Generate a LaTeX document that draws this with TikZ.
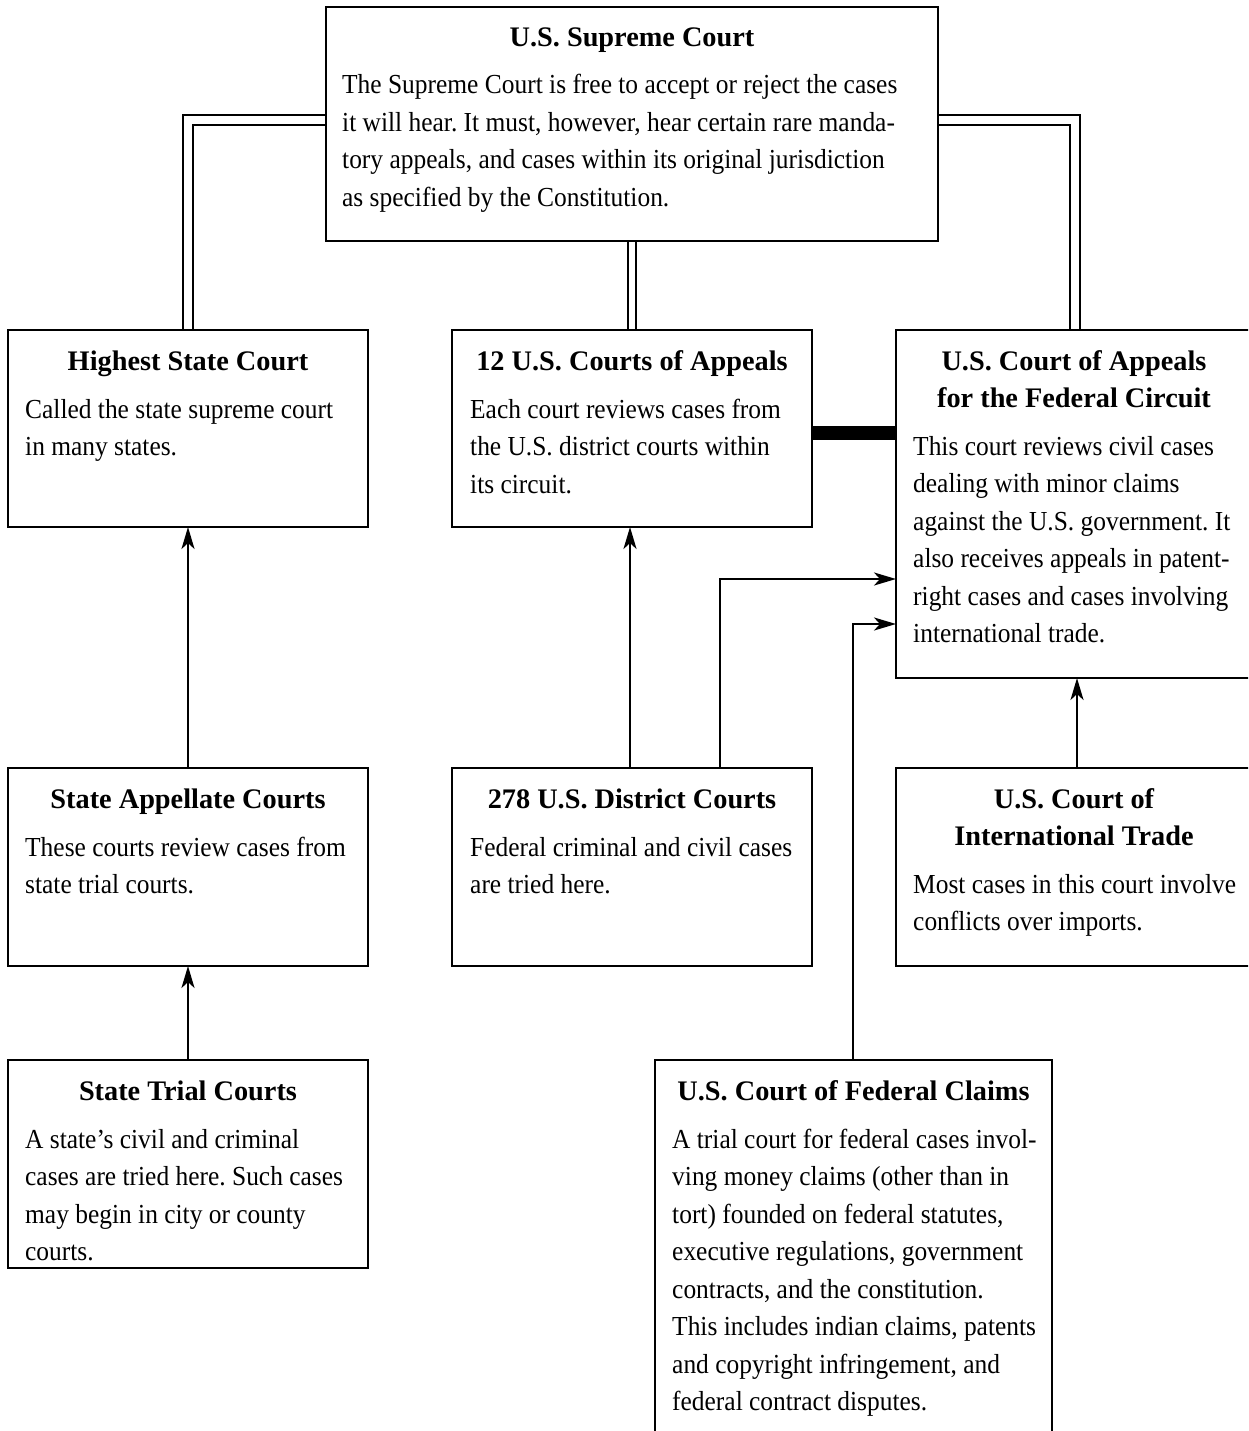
\documentclass[tikz,border=0pt]{standalone}
\usepackage{fontspec}
\setmainfont{Liberation Serif}[FakeStretch=0.925]
\newfontfamily\ttlfont{Liberation Serif}
\usetikzlibrary{arrows.meta,backgrounds}
\frenchspacing
\tikzset{
  box/.style={draw, line width=2pt, rectangle, inner sep=0pt, outer sep=0pt, anchor=north west},
  ttl/.style={anchor=base, inner sep=0pt, font=\ttlfont\bfseries\fontsize{28.3}{37}\selectfont},
  body/.style={anchor=base west, inner sep=0pt, font=\fontsize{27.5}{37.5}\selectfont},
  dbl/.style={draw, line width=2pt, double=white, double distance=8pt},
  dblb/.style={draw, line width=2pt, double=white, double distance=6pt},
  arr/.style={-{Stealth[length=22pt,width=13pt,inset=6pt]}, line width=2.5pt},
  bar/.style={line width=14pt}
}
\newcommand{\bt}[1]{\parbox[t]{560pt}{\raggedright\frenchspacing #1}}
\begin{document}
\begin{tikzpicture}[x=1pt,y=-1pt]
\path[use as bounding box] (0,0) rectangle (1248,1431);
\clip (0,0) rectangle (1248,1431);

% boxes
\node[box, minimum width=612, minimum height=234] (sc) at (326,7) {};
\node[box, minimum width=360, minimum height=197] (hsc) at (8,330) {};
\node[box, minimum width=360, minimum height=197] (app) at (452,330) {};
\node[box, minimum width=356, minimum height=348] (fedc) at (896,330) {};
\node[box, minimum width=360, minimum height=198] (sac) at (8,768) {};
\node[box, minimum width=360, minimum height=198] (dist) at (452,768) {};
\node[box, minimum width=356, minimum height=198] (cit) at (896,768) {};
\node[box, minimum width=360, minimum height=208] (stc) at (8,1060) {};
\node[box, minimum width=397, minimum height=392] (cfc) at (655,1060) {};

% titles
\node[ttl] (sc-h) at ([yshift=-40pt]sc.north) {U.S. Supreme Court};
\node[ttl] (hsc-h) at ([yshift=-40pt]hsc.north) {Highest State Court};
\node[ttl] (app-h) at ([yshift=-40pt]app.north) {12 U.S. Courts of Appeals};
\node[ttl] (fedc-h) at ([yshift=-40pt]fedc.north) {\parbox[t]{350pt}{\centering U.S. Court of Appeals\\for the Federal Circuit}};
\node[ttl] (sac-h) at ([yshift=-40pt]sac.north) {State Appellate Courts};
\node[ttl] (dist-h) at ([yshift=-40pt]dist.north) {278 U.S. District Courts};
\node[ttl] (cit-h) at ([yshift=-40pt]cit.north) {\parbox[t]{350pt}{\centering U.S. Court of\\International Trade}};
\node[ttl] (stc-h) at ([yshift=-40pt]stc.north) {State Trial Courts};
\node[ttl] (cfc-h) at ([yshift=-40pt]cfc.north) {U.S. Court of Federal Claims};

% body texts
\node[body] (sc-b) at ([xshift=16pt,yshift=-87pt]sc.north west) {\bt{The Supreme Court is free to accept or reject the cases\\it will hear. It must, however, hear certain rare manda-\\tory appeals, and cases within its original jurisdiction\\as specified by the Constitution.}};
\node[body] (hsc-b) at ([xshift=17pt,yshift=-88pt]hsc.north west) {\bt{Called the state supreme court\\in many states.}};
\node[body] (app-b) at ([xshift=18pt,yshift=-88pt]app.north west) {\bt{Each court reviews cases from\\the U.S. district courts within\\its circuit.}};
\node[body] (fedc-b) at ([xshift=17pt,yshift=-125pt]fedc.north west) {\bt{This court reviews civil cases\\dealing with minor claims\\against the U.S. government. It\\also receives appeals in patent-\\right cases and cases involving\\international trade.}};
\node[body] (sac-b) at ([xshift=17pt,yshift=-88pt]sac.north west) {\bt{These courts review cases from\\state trial courts.}};
\node[body] (dist-b) at ([xshift=18pt,yshift=-88pt]dist.north west) {\bt{Federal criminal and civil cases\\are tried here.}};
\node[body] (cit-b) at ([xshift=17pt,yshift=-125pt]cit.north west) {\bt{Most cases in this court involve\\conflicts over imports.}};
\node[body] (stc-b) at ([xshift=17pt,yshift=-88pt]stc.north west) {\bt{A state’s civil and criminal\\cases are tried here. Such cases\\may begin in city or county\\courts.}};
\node[body] (cfc-b) at ([xshift=17pt,yshift=-88pt]cfc.north west) {\bt{A trial court for federal cases invol-\\ving money claims (other than in\\tort) founded on federal statutes,\\executive regulations, government\\contracts, and the constitution.\\This includes indian claims, patents\\and copyright infringement, and\\federal contract disputes.}};

% connectors
\begin{scope}[on background layer]
\draw[dbl] ([yshift=-113.5pt]sc.north west) -| ([xshift=180pt]hsc.north west);
\draw[dbl] ([yshift=-113.5pt]sc.north east) -| ([xshift=178.5pt]fedc.north west);
\draw[dblb] (sc.south) -- (sc.south |- app.north);
\end{scope}
\draw[bar] ([yshift=-4pt]app.east) -- ([yshift=-4pt]app.east -| fedc.west);
\draw[arr] (sac.north) -- (hsc.south);
\draw[arr] (stc.north) -- (sac.south);
\draw[arr] ([xshift=-2pt]dist.north) -- ([xshift=-2pt]app.south);
\draw[arr] ([xshift=268pt]dist.north west) |- ([yshift=-249pt]fedc.north west);
\draw[arr] ([xshift=198pt]cfc.north west) |- ([yshift=-294pt]fedc.north west);
\draw[arr] ([xshift=181pt]cit.north west) -- ([xshift=181pt]fedc.south west);
\end{tikzpicture}
\end{document}
